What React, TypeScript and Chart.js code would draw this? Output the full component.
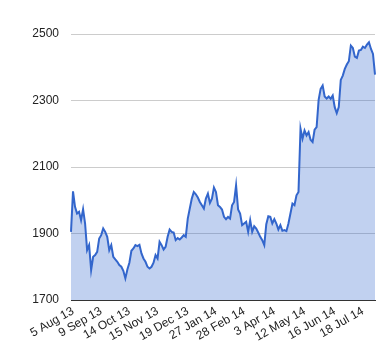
import React, { useEffect, useRef } from "react";
import { Chart, registerables } from "chart.js";

Chart.register(...registerables);

// Daily closing values (left to right)
const values: number[] = [
  1905, 2027, 1980, 1960, 1965, 1940, 1973, 1930, 1850, 1865,
  1790, 1830, 1835, 1845, 1885, 1895, 1915, 1905, 1890, 1850,
  1865, 1830, 1822, 1815, 1805, 1800, 1788, 1765, 1792, 1812,
  1848, 1855, 1865, 1862, 1866, 1840, 1825, 1815, 1800, 1795,
  1800, 1812, 1835, 1825, 1875, 1865, 1852, 1860, 1890, 1912,
  1905, 1903, 1880, 1886, 1882, 1888, 1895, 1890, 1945, 1975,
  2005, 2025, 2018, 2008, 1995, 1985, 1975, 2005, 2020, 1992,
  2005, 2038, 2025, 1985, 1980, 1972, 1950, 1943, 1950, 1945,
  1985, 1995, 2045, 1972, 1960, 1925, 1930, 1935, 1905, 1940,
  1905, 1922, 1915, 1903, 1890, 1880, 1865, 1928, 1952, 1950,
  1930, 1943, 1930, 1912, 1925, 1908, 1910, 1907, 1930, 1960,
  1990, 1985, 2015, 2025, 2215, 2185, 2210, 2195, 2205, 2182,
  2175, 2212, 2220, 2302, 2335, 2345, 2312, 2306, 2312, 2305,
  2315, 2280, 2262, 2280, 2362, 2375, 2395, 2408, 2418, 2465,
  2458, 2432, 2428, 2450, 2452, 2462, 2458, 2468, 2475, 2455,
  2440, 2378,
];

// Date labels shown on the x axis and the data index each one belongs to
const tickLabels: string[] = [
  "5 Aug 13", "9 Sep 13", "14 Oct 13", "15 Nov 13", "19 Dec 13",
  "27 Jan 14", "28 Feb 14", "3 Apr 14", "12 May 14", "16 Jun 14", "18 Jul 14",
];
const tickIndex: number[] = [1, 15, 29, 43, 58, 72, 86, 101, 116, 131, 145];

// Y axis range / ticks
const yMin = 1700;
const yMax = 2500;
const yStep = 200;

export default function App() {
  const ref = useRef<HTMLCanvasElement | null>(null);

  useEffect(() => {
    if (!ref.current) return;
    const categories = values.map((_, i) => {
      const k = tickIndex.indexOf(i);
      return k >= 0 ? tickLabels[k] : "";
    });
    const font = { family: "'Liberation Sans', Arial, sans-serif", size: 12 };
    const chart = new Chart(ref.current, {
      type: "line",
      data: {
        labels: categories,
        datasets: [
          {
            data: values,
            borderColor: "#3366cc",
            backgroundColor: "rgba(51,102,204,0.3)",
            borderWidth: 2,
            pointRadius: 0,
            tension: 0,
            fill: "origin",
          },
        ],
      },
      options: {
        animation: false,
        responsive: false,
        layout: { padding: { left: 0, right: 5, top: 34, bottom: 0 } },
        plugins: { legend: { display: false }, tooltip: { enabled: false } },
        scales: {
          x: {
            z: 1,
            grid: { display: false, drawTicks: false },
            border: { display: true, color: "#333333", width: 1 },
            ticks: {
              autoSkip: false,
              minRotation: 30,
              maxRotation: 30,
              padding: 4,
              color: "#222222",
              font,
            },
            afterFit: (s: any) => {
              s.height = 60;
              s.paddingRight = 0;
            },
          },
          y: {
            min: yMin,
            max: yMax,
            grid: { color: "#cccccc", drawTicks: false },
            border: { display: false },
            ticks: {
              stepSize: yStep,
              padding: 12,
              color: "#222222",
              font,
              callback: (v: any) => String(v),
            },
            afterFit: (s: any) => {
              s.width = 71;
            },
          },
        },
      },
    });
    return () => chart.destroy();
  }, []);

  return (
    <div style={{ position: "fixed", left: 0, top: 0, width: 380, height: 360, background: "#fff" }}>
      <canvas ref={ref} width={380} height={360} style={{ display: "block" }} />
    </div>
  );
}
